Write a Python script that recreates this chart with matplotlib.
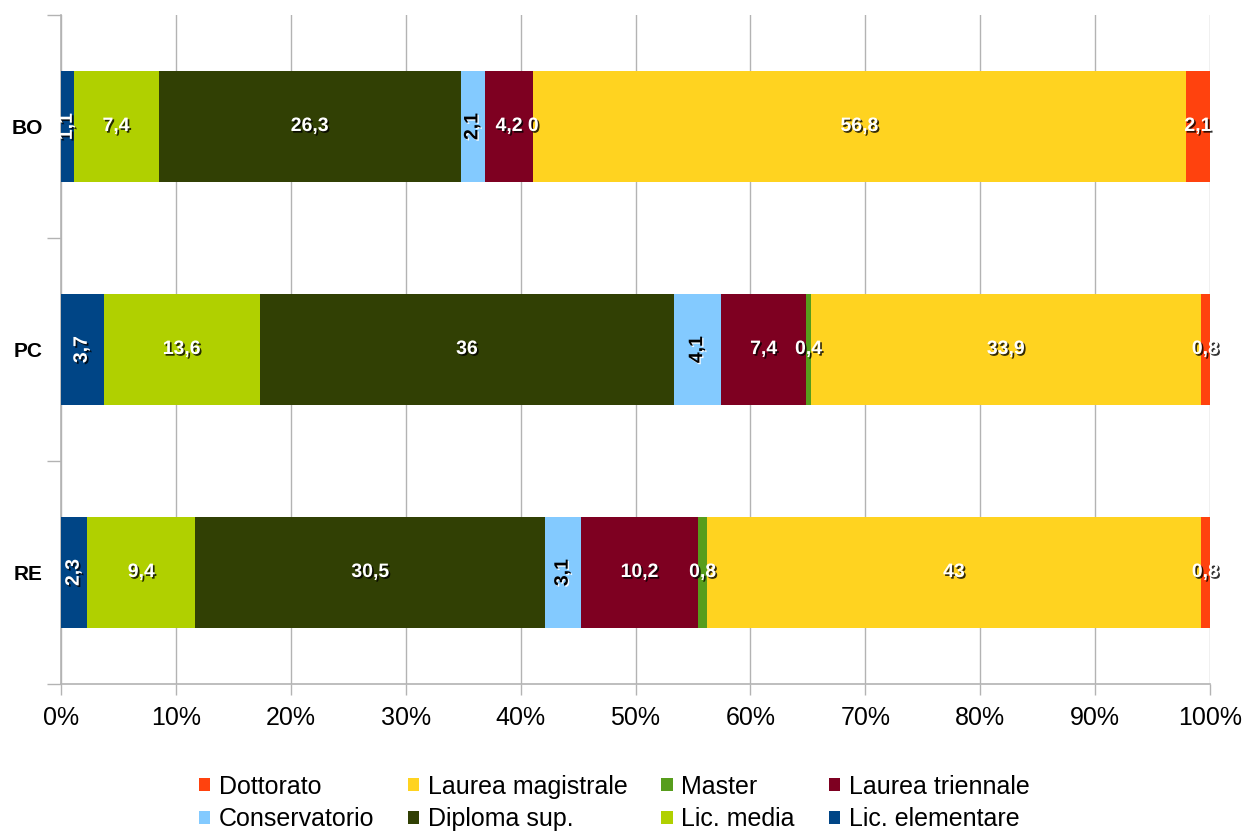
import matplotlib
matplotlib.use("Agg")
import matplotlib.pyplot as plt
import matplotlib.patheffects as pe
import numpy as np

plt.rcParams['font.family'] = ['Liberation Sans', 'DejaVu Sans']

categories = ["BO", "PC", "RE"]
series = ["Lic. elementare", "Lic. media", "Diploma sup.", "Conservatorio",
          "Laurea triennale", "Master", "Laurea magistrale", "Dottorato"]
colors = ["#004586", "#b0d000", "#314004", "#83caff",
          "#7e0021", "#579d1c", "#ffd320", "#ff420e"]

lic_elementare = [1.1, 3.7, 2.3]
lic_media = [7.4, 13.6, 9.4]
diploma_sup = [26.3, 36, 30.5]
conservatorio = [2.1, 4.1, 3.1]
laurea_triennale = [4.2, 7.4, 10.2]
master = [0, 0.4, 0.8]
laurea_magistrale = [56.8, 33.9, 43]
dottorato = [2.1, 0.8, 0.8]

xtick_labels = ["0%", "10%", "20%", "30%", "40%", "50%", "60%", "70%", "80%", "90%", "100%"]

data = np.array([lic_elementare, lic_media, diploma_sup, conservatorio,
                 laurea_triennale, master, laurea_magistrale, dottorato], dtype=float)
totals = data.sum(axis=0)
pct = data / totals * 100

fig = plt.figure(figsize=(12.46, 8.33), dpi=100)
ax = fig.add_axes([61/1246, 1-684/833, (1210-61)/1246, (684-15)/833])

y = np.arange(len(categories))
left = np.zeros(len(categories))
handles = {}
rotated = {"Lic. elementare", "Conservatorio"}
for i, name in enumerate(series):
    bars = ax.barh(y, pct[i], left=left, height=0.5, color=colors[i],
                   label=name, zorder=3)
    handles[name] = bars
    for j in range(len(categories)):
        v = data[i, j]
        txt = f"{v:g}".replace('.', ',')
        xc = left[j] + pct[i, j] / 2
        if name == "Conservatorio":
            tc = 'black'
            eff = [pe.SimplePatchShadow(offset=(1, -1), shadow_rgbFace='white', alpha=0.9), pe.Normal()]
        else:
            tc = 'white'
            eff = [pe.SimplePatchShadow(offset=(1.2, -1.2), shadow_rgbFace='black', alpha=0.8), pe.Normal()]
        ax.text(xc, y[j], txt, ha='center', va='center', color=tc,
                fontsize=14, fontweight='bold',
                rotation=90 if name in rotated else 0,
                path_effects=eff, zorder=5)
    left += pct[i]

ax.set_xlim(0, 100)
ax.set_ylim(2.5, -0.5)
ax.set_xticks(np.arange(0, 101, 10))
ax.set_xticklabels(xtick_labels, fontsize=18)
ax.set_yticks(y)
ax.set_yticklabels(categories, fontsize=15, fontweight='bold')
ax.set_yticks([-0.5, 0.5, 1.5, 2.5], minor=True)
ax.tick_params(axis='y', which='major', length=0, pad=13)
ax.tick_params(axis='y', which='minor', length=10, color='#b3b3b3', width=1)
ax.tick_params(axis='x', which='major', length=8, color='#b3b3b3', width=1, pad=8)
ax.grid(axis='x', color='#b3b3b3', linewidth=1, zorder=0)
ax.set_axisbelow(True)
for s in ['top', 'right']:
    ax.spines[s].set_visible(False)
for s in ['left', 'bottom']:
    ax.spines[s].set_color('#b3b3b3')
    ax.spines[s].set_linewidth(1.2)

order = ["Dottorato", "Conservatorio", "Laurea magistrale", "Diploma sup.",
         "Master", "Lic. media", "Laurea triennale", "Lic. elementare"]
fig.legend([handles[n] for n in order], order, loc='center',
           bbox_to_anchor=(614/1246, 1-803/833), ncol=4, frameon=False,
           fontsize=18, handlelength=0.45, handleheight=0.45,
           handletextpad=0.35, columnspacing=1.35, labelspacing=0.35)

fig.savefig("out.png", dpi=100)
